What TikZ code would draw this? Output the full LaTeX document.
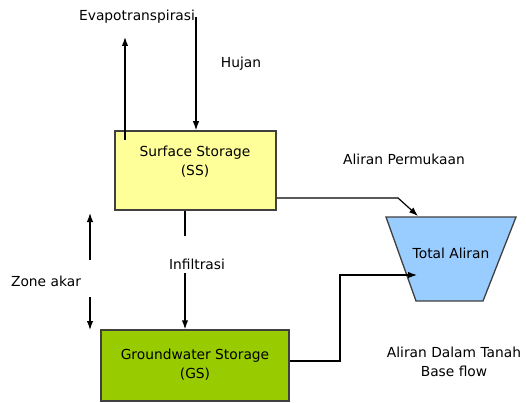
\documentclass[tikz,border=0pt]{standalone}
\usepackage{fontspec}
\setmainfont{DejaVu Sans}
\usetikzlibrary{arrows.meta}
\definecolor{ssyellow}{HTML}{FFFF99}
\definecolor{gsgreen}{HTML}{99CC00}
\definecolor{tablue}{HTML}{99CCFF}
\definecolor{edge}{HTML}{404040}
\begin{document}
\begin{tikzpicture}[x=1pt,y=-1pt,
  box/.style={draw=edge,line width=1.5pt,rectangle,inner sep=0pt},
  lbl/.style={font=\fontsize{13.8}{19}\selectfont,inner sep=0pt,align=center},
  flow/.style={draw=black,line width=1.2pt,-{Latex[length=9pt,width=6.5pt]}}]
\useasboundingbox (0,0) rectangle (526,403);
% boxes
\node[box,fill=ssyellow,minimum width=161pt,minimum height=79pt] (ss) at (195.5,170.5) {};
\node[lbl] (sslabel) at (195,162) {Surface Storage\\(SS)};
\node[box,fill=gsgreen,minimum width=188pt,minimum height=71pt] (gs) at (195,365.5) {};
\node[lbl] (gslabel) at (195,365) {Groundwater Storage\\(GS)};
% trapezoid
\draw[draw=edge,line width=1.3pt,fill=tablue] (386,217) -- (516,217) -- (483,301) -- (416,301) -- cycle;
\node[lbl] (ta) at (451,253) {Total Aliran};
\coordinate (tatop) at (418,216);
\coordinate (taleft) at (417,275);
% labels
\node[lbl] (evap) at (137,17) {Evapotranspirasi};
\node[lbl] (hujan) at (241,64) {Hujan};
\node[lbl] (perm) at (404,159) {Aliran Permukaan};
\node[lbl] (infil) at (197,264) {Infiltrasi};
\node[lbl] (zone) at (46,281) {Zone akar};
\node[lbl] (dalam) at (454,362) {Aliran Dalam Tanah\\Base flow};
% arrows
\coordinate (evtop) at (125,37);
\draw[flow] (ss.north west -| evtop) ++(0,10) -- (evtop);
\coordinate (hjtop) at (196,17);
\draw[flow] (hjtop) -- (hjtop |- ss.north);
\draw[flow] (ss.east |- 0,198) -- (398,198) -- (tatop);
\draw[line width=1.2pt] (ss.south -| 185,0) -- (185,236);
\draw[flow] (185,273) -- (185,0 |- gs.north);
\coordinate (zup) at (90,213);
\coordinate (zdown) at (90,330);
\draw[flow] (90,260) -- (zup);
\draw[flow] (90,297) -- (zdown);
\draw[flow] (gs.east |- 0,361) -- (340,361) -- (340,275) -- (taleft);
\end{tikzpicture}
\end{document}
